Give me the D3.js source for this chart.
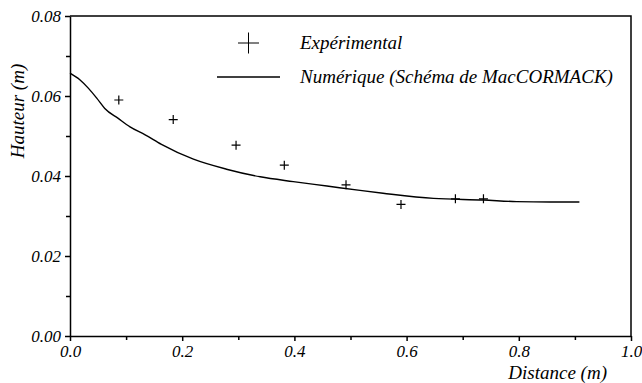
<!DOCTYPE html>
<html>
<head>
<meta charset="utf-8">
<script src="https://cdn.jsdelivr.net/npm/d3@7"></script>
<style>
  body { margin: 0; background: #fff; }
</style>
</head>
<body>
<figure id="chart" style="margin:0"></figure>
<script>
// experimental points
const expX = [0.087, 0.184, 0.296, 0.382, 0.492, 0.590, 0.687, 0.737];
const expY = [0.0590, 0.0541, 0.0477, 0.0427, 0.0378, 0.0329, 0.0343, 0.0343];

// numerical solution (MacCormack)
const numX = [0.000, 0.018, 0.033, 0.048, 0.062, 0.086, 0.107, 0.134, 0.163, 0.220, 0.279, 0.339, 0.398, 0.458, 0.517, 0.558, 0.648, 0.737, 0.796, 0.856, 0.908];
const numY = [0.0657, 0.0640, 0.0619, 0.0594, 0.0569, 0.0544, 0.0523, 0.0503, 0.0479, 0.0442, 0.0417, 0.0398, 0.0386, 0.0375, 0.0364, 0.0357, 0.0344, 0.0340, 0.0336, 0.0335, 0.0335];

const xTicks = [0, 0.2, 0.4, 0.6, 0.8, 1.0];
const yTicks = [0, 0.02, 0.04, 0.06, 0.08];

const FONT = "'Times New Roman', serif";

let dimensions = {
    width: 642,
    height: 383,
    margin: { top: 16, right: 11, bottom: 47, left: 70 }
};
dimensions.boundedWidth = dimensions.width - dimensions.margin.left - dimensions.margin.right;
dimensions.boundedHeight = dimensions.height - dimensions.margin.top - dimensions.margin.bottom;

const svg = d3.select("figure#chart")
    .append("svg")
    .attr("width", dimensions.width)
    .attr("height", dimensions.height);

const g = svg.append("g")
    .attr("transform", `translate(${dimensions.margin.left}, ${dimensions.margin.top})`);

const xScale = d3.scaleLinear().domain([0, 1]).range([0, dimensions.boundedWidth]);
const yScale = d3.scaleLinear().domain([0, 0.08]).range([dimensions.boundedHeight, 0]);

// minor ticks
g.append("g")
    .attr("transform", `translate(0, ${dimensions.boundedHeight})`)
    .call(d3.axisBottom(xScale).tickValues(d3.range(0.1, 1, 0.2)).tickSize(4).tickFormat(""))
    .call(a => a.select(".domain").remove());
g.append("g")
    .call(d3.axisLeft(yScale).tickValues(d3.range(0.01, 0.08, 0.02)).tickSize(4).tickFormat(""))
    .call(a => a.select(".domain").remove());

// major axes
const xAxis = g.append("g")
    .attr("transform", `translate(0, ${dimensions.boundedHeight})`)
    .call(d3.axisBottom(xScale).tickValues(xTicks).tickSize(5).tickSizeOuter(0).tickPadding(4).tickFormat(d3.format(".1f")));
const yAxis = g.append("g")
    .call(d3.axisLeft(yScale).tickValues(yTicks).tickSize(5).tickSizeOuter(0).tickPadding(4).tickFormat(d3.format(".2f")));

g.selectAll(".domain, .tick line").attr("stroke", "#000").attr("stroke-width", 1.5);

// frame top and right
g.append("path")
    .attr("d", `M0,0H${dimensions.boundedWidth}V${dimensions.boundedHeight}`)
    .attr("fill", "none")
    .attr("stroke", "#000")
    .attr("stroke-width", 1.5);

// numerical curve
const line = d3.line()
    .x(i => xScale(numX[i]))
    .y(i => yScale(numY[i]))
    .curve(d3.curveMonotoneX);
g.append("path")
    .attr("d", line(d3.range(numX.length)))
    .attr("fill", "none")
    .attr("stroke", "#000")
    .attr("stroke-width", 1.4);

// experimental crosses
const s = 4.5;
g.selectAll(".cross")
    .data(d3.range(expX.length))
    .enter()
    .append("path")
    .attr("class", "cross")
    .attr("d", i => {
        const cx = xScale(expX[i]), cy = yScale(expY[i]);
        return `M${cx - s},${cy}H${cx + s}M${cx},${cy - s}V${cy + s}`;
    })
    .attr("stroke", "#000")
    .attr("stroke-width", 1.2);

// legend
const legend = svg.append("g");
legend.append("path")
    .attr("d", "M238,43H259M248.5,32.5V53.5")
    .attr("stroke", "#000").attr("stroke-width", 1);
legend.append("text").attr("x", 300).attr("y", 49).attr("font-size", 19).text("Expérimental");
legend.append("path")
    .attr("d", "M217,77H280")
    .attr("stroke", "#000").attr("stroke-width", 1.4);
legend.append("text").attr("x", 300).attr("y", 83).attr("font-size", 19).text("Numérique (Schéma de MacCORMACK)");

// axis titles
svg.append("text")
    .attr("transform", "translate(24, 111) rotate(-90)")
    .attr("text-anchor", "middle")
    .attr("font-size", 19)
    .text("Hauteur (m)");
svg.append("text")
    .attr("x", 607)
    .attr("y", 379)
    .attr("text-anchor", "end")
    .attr("font-size", 19)
    .text("Distance (m)");

// serif italic on every text, tick labels a bit smaller
svg.selectAll("text")
    .attr("font-family", FONT)
    .attr("font-style", "italic")
    .attr("fill", "#000");
g.selectAll(".tick text").attr("font-size", 17);
</script>
</body>
</html>
